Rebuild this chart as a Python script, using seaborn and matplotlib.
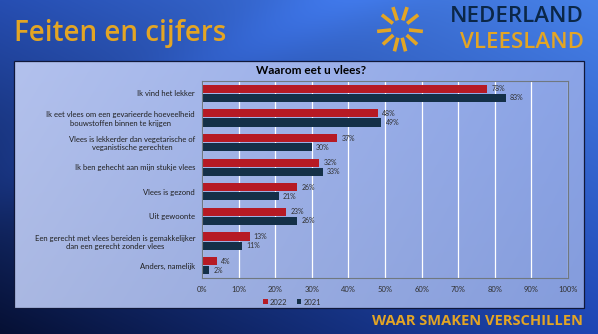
import numpy as np
import pandas as pd
import matplotlib
matplotlib.use("Agg")
import matplotlib.pyplot as plt
import seaborn as sns
from matplotlib.patches import Rectangle

# ---- data ----
categories = [
    "Ik vind het lekker",
    "Ik eet vlees om een gevarieerde hoeveelheid\nbouwstoffen binnen te krijgen",
    "Vlees is lekkerder dan vegetarische of\nveganistische gerechten",
    "Ik ben gehecht aan mijn stukje vlees",
    "Vlees is gezond",
    "Uit gewoonte",
    "Een gerecht met vlees bereiden is gemakkelijker\ndan een gerecht zonder vlees",
    "Anders, namelijk",
]
values_2022 = [78, 48, 37, 32, 26, 23, 13, 4]
values_2021 = [83, 49, 30, 33, 21, 26, 11, 2]
years = ["2022", "2021"]
x_ticks = [0, 10, 20, 30, 40, 50, 60, 70, 80, 90, 100]

df = pd.DataFrame({
    "category": categories * 2,
    "value": values_2022 + values_2021,
    "year": [years[0]] * len(categories) + [years[1]] * len(categories),
})

RED = "#d0000e"
NAVY = "#0c3150"
GOLD = "#e3a524"
W, H = 598, 334

sns.set_theme(style="white")
plt.rcParams["font.family"] = ["Lato", "DejaVu Sans"]

fig = plt.figure(figsize=(W / 100, H / 100), dpi=100)

# ---- slide background ----
bg = fig.add_axes([0, 0, 1, 1])
yy, xx = np.mgrid[0:H, 0:W]
u = xx / (W - 1)
v = yy / (H - 1)
TL = np.array([38, 78, 178]); TR = np.array([72, 130, 232])
BL = np.array([6, 16, 52]); BR = np.array([30, 70, 180])
img = (TL * ((1 - u) * (1 - v))[..., None] + TR * (u * (1 - v))[..., None]
       + BL * ((1 - u) * v)[..., None] + BR * (u * v)[..., None])
d = (xx * 0.55 + yy) / H
streak = np.exp(-((d - 0.55) / 0.12) ** 2) * 0.12
img = img * (1 + streak[..., None])
img = np.clip(img, 0, 255) / 255
bg.imshow(img, extent=[0, W, H, 0], aspect="auto", zorder=0)

# panel
px0, px1, py0, py1 = 14, 584, 61, 308
pyy, pxx = np.mgrid[0:py1 - py0, 0:px1 - px0]
pu = pxx / (px1 - px0)
pv = pyy / (py1 - py0)
PL = np.array([170, 184, 226]); PR = np.array([132, 156, 220])
pimg = PL * (1 - pu)[..., None] + PR * pu[..., None]
pimg = pimg * (1 + 0.05 * (1 - pv))[..., None]
pimg = np.clip(pimg, 0, 255) / 255
bg.imshow(pimg, extent=[px0, px1, py1, py0], aspect="auto", zorder=1)
bg.add_patch(Rectangle((px0, py0), px1 - px0, py1 - py0, fill=False,
                       edgecolor="#10183a", lw=0.9, zorder=2))
bg.set_xlim(0, W)
bg.set_ylim(H, 0)
bg.axis("off")

# title and logo
bg.text(14, 33, "Feiten en cijfers", color=GOLD, fontsize=20, fontweight="semibold",
        ha="left", va="center", family=["Open Sans", "DejaVu Sans"], zorder=3)
cx, cy = 400, 29
for ang in [72, 108, 142, 38, 186, -6, 222, 318, 256, 284]:
    a = np.deg2rad(ang)
    bg.plot([cx + 9 * np.cos(a), cx + 23 * np.cos(a)],
            [cy - 9 * np.sin(a), cy - 23 * np.sin(a)],
            color=GOLD, lw=2.6, solid_capstyle="butt", zorder=3)
bg.text(584, 16, "NEDERLAND", color="#0b2748", fontsize=16, fontweight="semibold",
        ha="right", va="center", family=["Open Sans", "DejaVu Sans"], zorder=3)
bg.text(584, 42, "VLEESLAND", color=GOLD, fontsize=16, fontweight="semibold",
        ha="right", va="center", family=["Open Sans", "DejaVu Sans"], zorder=3)
bg.text(583, 321, "WAAR SMAKEN VERSCHILLEN", color=GOLD, fontsize=10.5,
        fontweight="bold", ha="right", va="center",
        family=["Open Sans", "DejaVu Sans"], zorder=3)
bg.text(311, 71, "Waarom eet u vlees?", color="black", fontsize=8.5,
        fontweight="bold", ha="center", va="center", zorder=3)

# ---- chart ----
ax = fig.add_axes([202 / W, 1 - 278 / H, (568 - 202) / W, (278 - 81) / H])
ax.set_facecolor("none")
sns.barplot(data=df, y="category", x="value", hue="year", hue_order=years,
            palette=[RED, NAVY], orient="h", width=0.74, gap=0.1,
            linewidth=0, ax=ax, legend=True)
ax.set_xlim(0, 100)
ax.set_xticks(x_ticks)
ax.set_xticklabels([f"{t}%" for t in x_ticks], fontsize=5.5, color="#303030")
ax.tick_params(axis="x", length=0, pad=6)
ax.tick_params(axis="y", length=0, pad=5, labelsize=5.5, labelcolor="#202020")
for t in ax.get_yticklabels():
    t.set_multialignment("center")
ax.set_xlabel("")
ax.set_ylabel("")
ax.grid(axis="x", color="white", lw=0.9)
ax.set_axisbelow(True)
for s in ax.spines.values():
    s.set_color("#707880")
    s.set_linewidth(0.8)
    s.set_visible(True)

for cont in ax.containers:
    ax.bar_label(cont, fmt="%d%%", padding=3, fontsize=5, color="#303030")

leg = ax.legend(loc="center", bbox_to_anchor=(0.246, -0.122), ncol=2,
                frameon=False, fontsize=5.5, handlelength=0.6, handleheight=0.6,
                columnspacing=1.2, handletextpad=0.3)
for txt in leg.get_texts():
    txt.set_color("#303030")

fig.savefig("out.png", dpi=100)
